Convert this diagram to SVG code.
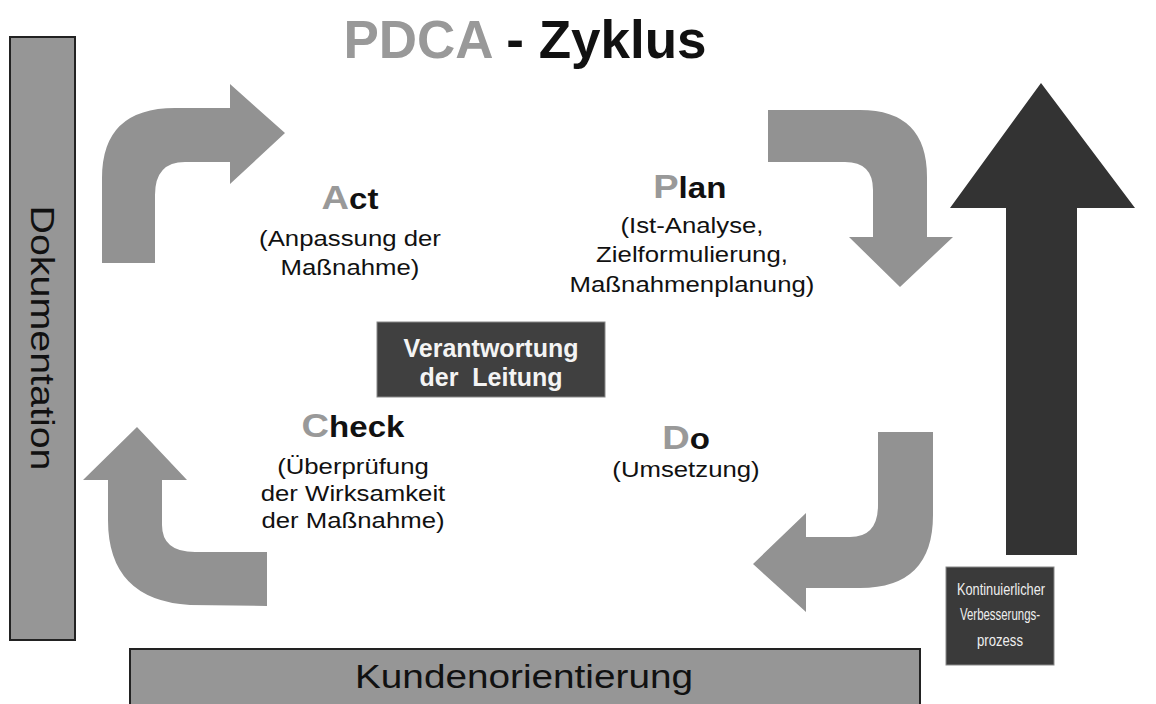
<svg xmlns="http://www.w3.org/2000/svg" width="1156" height="704" viewBox="0 0 1156 704">
<style>
.t{font-family:"Liberation Sans",Arial,sans-serif;fill:#111}
.s{font-size:23px}
.big{font-size:34px;font-weight:bold;fill:#999}
.hd{font-size:29.5px;font-weight:bold;fill:#111}
.arr{fill:#929292}
.w{font-family:"Liberation Sans",Arial,sans-serif;font-size:25px;font-weight:bold;fill:#f4f4f4}
.k{font-family:"Liberation Sans",Arial,sans-serif;font-size:17px;fill:#eee}
</style>
<rect width="1156" height="704" fill="#fff"/>
<text class="t" x="525" y="58" text-anchor="middle" font-size="53" font-weight="bold"><tspan fill="#999" style="fill:#999">PDCA</tspan><tspan> - Zyklus</tspan></text>
<g id="dokumentation">
<rect x="10" y="37" width="65" height="603" fill="#969696" stroke="#222" stroke-width="2"/>
<text class="t" transform="translate(31,338) rotate(90)" text-anchor="middle" font-size="33" textLength="265" lengthAdjust="spacingAndGlyphs">Dokumentation</text>
</g>
<g id="kunden">
<rect x="130" y="649" width="790" height="60" fill="#969696" stroke="#222" stroke-width="2"/>
<text class="t" x="524" y="688" text-anchor="middle" font-size="33" textLength="338" lengthAdjust="spacingAndGlyphs">Kundenorientierung</text>
</g>
<g id="connectors">
<path class="arr" d="M102,263 L102,178 Q102,108 175,108 L230,108 L230,84 L285,133 L230,184 L230,162 L185,162 Q155,162 155,195 L155,263 Z"/>
<path class="arr" d="M768,110 L860,110 Q927,110 927,177 L927,237 L953,237 L900,287 L849,237 L873,237 L873,190 Q873,162 845,162 L768,162 Z"/>
<path class="arr" d="M933,432 L933,515 Q933,588 860,588 L806,588 L806,612 L753,564 L806,513 L806,537 L850,537 Q878,537 878,505 L878,432 Z"/>
<path class="arr" d="M267,552 L267,606 L190,605 Q108,600 108,520 L108,480 L83,480 L137,427 L187,480 L162,480 L162,525 Q162,552 195,552 Z"/>
<path fill="#333" d="M1006,555 L1006,208 L950,208 L1041,83 L1135,208 L1077,208 L1077,555 Z"/>
</g>
<g id="act" transform="translate(350,0) scale(1.12,1) translate(-350,0)">
<text class="t" x="350" y="209" text-anchor="middle"><tspan class="big">A</tspan><tspan class="hd">ct</tspan></text>
<text class="t s" x="350" y="246" text-anchor="middle">(Anpassung der</text>
<text class="t s" x="350" y="275" text-anchor="middle">Maßnahme)</text>
</g>
<g id="plan" transform="translate(692,0) scale(1.12,1) translate(-692,0)">
<text class="t" x="690" y="198" text-anchor="middle"><tspan class="big">P</tspan><tspan class="hd">lan</tspan></text>
<text class="t s" x="692" y="233" text-anchor="middle">(Ist-Analyse,</text>
<text class="t s" x="692" y="262" text-anchor="middle">Zielformulierung,</text>
<text class="t s" x="692" y="292" text-anchor="middle">Maßnahmenplanung)</text>
</g>
<g id="leitung">
<rect x="377" y="322" width="228" height="75" fill="#404040" stroke="#888" stroke-width="1"/>
<text class="w" x="491" y="357" text-anchor="middle">Verantwortung</text>
<text class="w" x="491" y="386" text-anchor="middle" xml:space="preserve">der  Leitung</text>
</g>
<g id="check" transform="translate(353,0) scale(1.12,1) translate(-353,0)">
<text class="t" x="353" y="437" text-anchor="middle"><tspan class="big">C</tspan><tspan class="hd">heck</tspan></text>
<text class="t s" x="353" y="474" text-anchor="middle">(Überprüfung</text>
<text class="t s" x="353" y="501" text-anchor="middle">der Wirksamkeit</text>
<text class="t s" x="353" y="528" text-anchor="middle">der Maßnahme)</text>
</g>
<g id="do" transform="translate(686,0) scale(1.12,1) translate(-686,0)">
<text class="t" x="686" y="449" text-anchor="middle"><tspan class="big">D</tspan><tspan class="hd">o</tspan></text>
<text class="t s" x="686" y="477" text-anchor="middle">(Umsetzung)</text>
</g>
<g id="kvp">
<rect x="946" y="567" width="108" height="98" fill="#3a3a3a" stroke="#888" stroke-width="1"/>
<text class="k" x="1001" y="595" text-anchor="middle" textLength="88" lengthAdjust="spacingAndGlyphs">Kontinuierlicher</text>
<text class="k" x="1000" y="620" text-anchor="middle" textLength="80" lengthAdjust="spacingAndGlyphs">Verbesserungs-</text>
<text class="k" x="1000" y="646" text-anchor="middle" textLength="46" lengthAdjust="spacingAndGlyphs">prozess</text>
</g>
</svg>
